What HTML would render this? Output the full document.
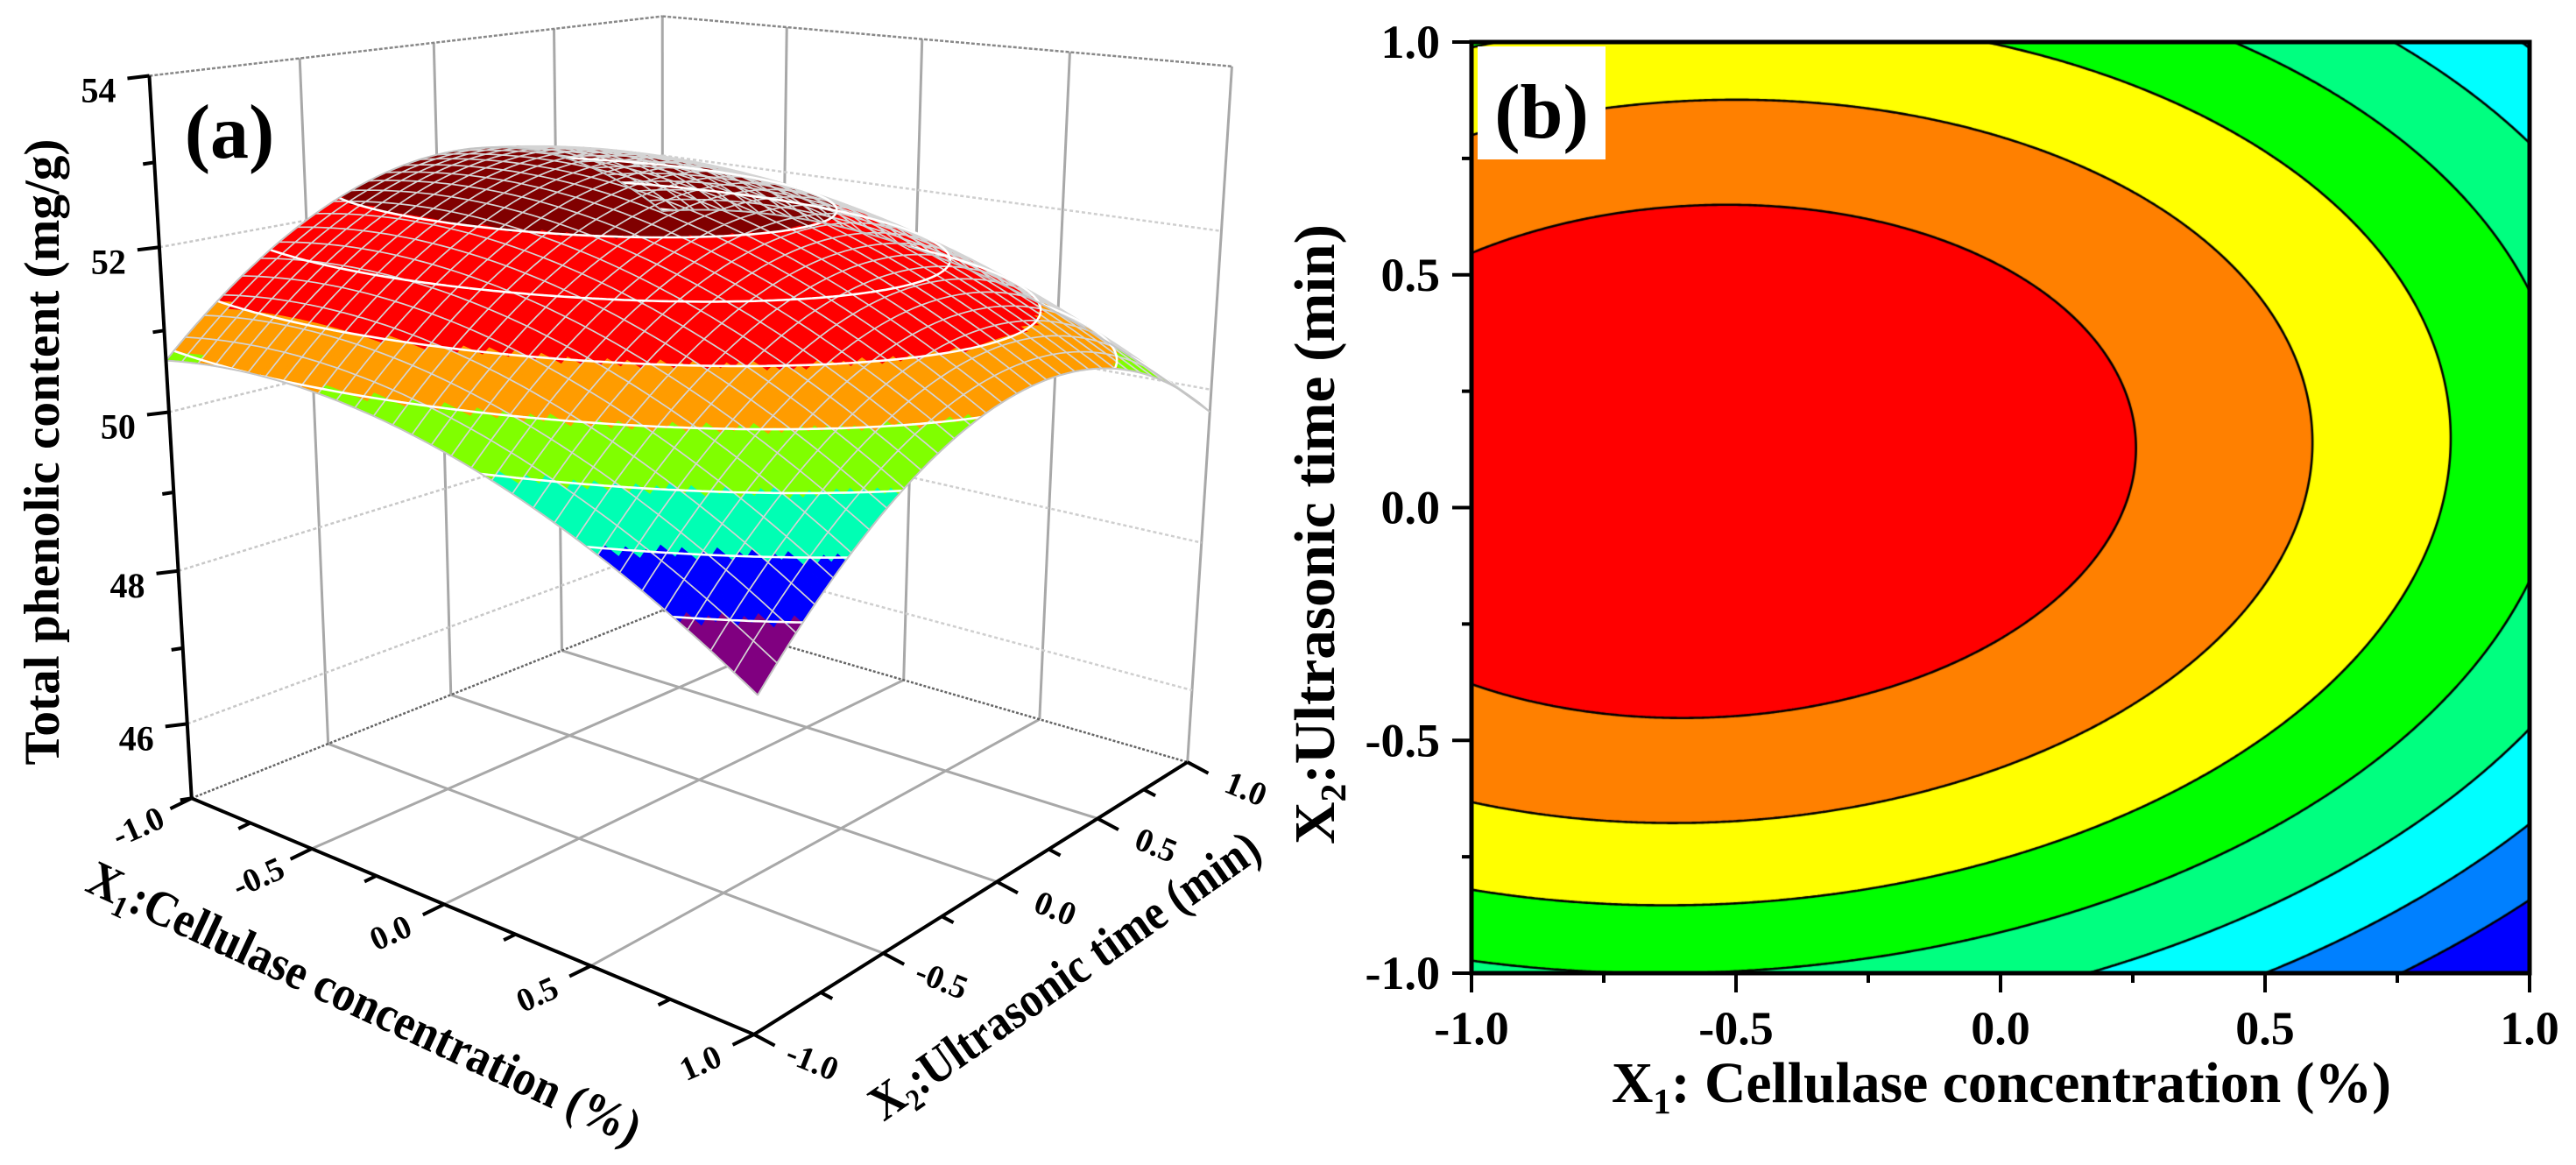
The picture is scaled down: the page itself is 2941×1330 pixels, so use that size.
<!DOCTYPE html>
<html><head><meta charset="utf-8"><title>Response surface and contour plot</title>
<style>
body{margin:0;background:#fff}
#root{position:relative;width:2941px;height:1330px;overflow:hidden;background:#fff}
text{font-family:"Liberation Serif",serif;font-weight:bold;fill:#000}
</style></head>
<body>
<div id="root">
<canvas id="cv" width="1208" height="1063" style="position:absolute;left:1680px;top:48px"></canvas>
<svg id="sv" width="2941" height="1330" viewBox="0 0 2941 1330" style="position:absolute;left:0;top:0">
<g id="g3d"></g>
<g id="g2d"></g>
</svg>
</div>
<script>
// ---- data (fitted quadratic model) ----
const coefs = [52.45, -0.85, 0.39, -0.75, -1.64, 0.115]; // b0, b1, b2, b11, b22, b12
const levels = [49.26, 49.75, 50.24, 50.73, 51.22, 51.72, 52.21];
const contourColors = ['#0000FF','#0080FF','#00FFFF','#00FF80','#00FF00','#FFFF00','#FF8000','#FF0000'];
const surfaceColors = ['#800080','#0000FF','#00FFB4','#80FF00','#FF9C00','#FF0000','#FF0000','#800000'];
const zTicks = [46, 48, 50, 52, 54];
const zMinorTicks = [45, 47, 49, 51, 53];
const xTicks = [-1, -0.5, 0, 0.5, 1];
const xTickLabels = ['-1.0', '-0.5', '0.0', '0.5', '1.0'];
const zTickLabels = ['46', '48', '50', '52', '54'];

const NS = 'http://www.w3.org/2000/svg';
function f(u, v) { return coefs[0] + coefs[1]*u + coefs[2]*v + coefs[3]*u*u + coefs[4]*v*v + coefs[5]*u*v; }
function band(z) { let i = 0; while (i < levels.length && z >= levels[i]) i++; return i; }
function mk(parent, tag) { const e = document.createElementNS(NS, tag); parent.appendChild(e); return e; }

// ---- 3D camera (DLT fit to box corners) ----
const calib = [[-1,-1,0,219,910],[1,-1,0,861,1182],[1,1,0,1356,869],[-1,1,0,756,698],[-1,-1,1,170,87],[1,1,1,1406,76],[-1,1,1,757,18]];
const P = (function(){
  const A = [], b = [];
  calib.forEach(([X,Y,Z,x,y]) => {
    A.push([X,Y,Z,1,0,0,0,0,-x*X,-x*Y,-x*Z]); b.push(x);
    A.push([0,0,0,0,X,Y,Z,1,-y*X,-y*Y,-y*Z]); b.push(y);
  });
  const n = 11, M = [];
  for (let i = 0; i < n; i++) { M.push([]); for (let j = 0; j <= n; j++) {
    let s = 0; for (let r = 0; r < A.length; r++) s += A[r][i] * (j < n ? A[r][j] : b[r]); M[i].push(s); } }
  for (let c = 0; c < n; c++) {
    let p = c; for (let r = c+1; r < n; r++) if (Math.abs(M[r][c]) > Math.abs(M[p][c])) p = r;
    [M[c], M[p]] = [M[p], M[c]];
    for (let r = 0; r < n; r++) { if (r === c) continue; const k = M[r][c] / M[c][c];
      for (let j = c; j <= n; j++) M[r][j] -= k * M[c][j]; }
  }
  return M.map((row, i) => row[n] / row[i]);
})();
function proj(u, v, z) {
  const X = u, Y = v, Z = (z - 45) / 9;
  const d = P[8]*X + P[9]*Y + P[10]*Z + 1;
  return [(P[0]*X + P[1]*Y + P[2]*Z + P[3]) / d, (P[4]*X + P[5]*Y + P[6]*Z + P[7]) / d, d];
}
const g3 = document.getElementById('g3d');
function seg(g, a, b, stroke, w, dash, name) {
  const e = mk(g, 'line');
  e.setAttribute('x1', a[0]); e.setAttribute('y1', a[1]); e.setAttribute('x2', b[0]); e.setAttribute('y2', b[1]);
  e.setAttribute('stroke', stroke); e.setAttribute('stroke-width', w);
  if (dash) e.setAttribute('stroke-dasharray', dash);
  
  
  return e;
}
function txt(g, x, y, s, size, rot, anchor, name) {
  const e = mk(g, 'text');
  e.setAttribute('x', x); e.setAttribute('y', y); e.setAttribute('font-size', size);
  e.setAttribute('text-anchor', anchor || 'middle');
  if (rot) e.setAttribute('transform', `rotate(${rot} ${x} ${y})`);
  e.textContent = s;
  
  
  return e;
}
const gridMid = [-0.5, 0, 0.5];
gridMid.concat([1]).forEach(v => seg(g3, proj(-1,v,45), proj(-1,v,54), '#a8a8a8', 3, null, 'left-wall-gridline'));
gridMid.concat([1]).forEach(u => seg(g3, proj(u,1,45), proj(u,1,54), '#a8a8a8', 3, null, 'right-wall-gridline'));
zTicks.slice(0,4).forEach(z => { seg(g3, proj(-1,-1,z), proj(-1,1,z), '#c8c8c8', 2.5, '4 3', 'left-wall-z-gridline');
  seg(g3, proj(-1,1,z), proj(1,1,z), '#cfcfcf', 2.5, '4 3', 'right-wall-z-gridline'); });
seg(g3, proj(-1,-1,54), proj(-1,1,54), '#888', 2.5, '4 2', 'box-top-edge');
seg(g3, proj(-1,1,54), proj(1,1,54), '#888', 2.5, '4 2', 'box-top-edge');
gridMid.forEach(t => { seg(g3, proj(t,-1,45), proj(t,1,45), '#a8a8a8', 3, null, 'floor-gridline');
  seg(g3, proj(-1,t,45), proj(1,t,45), '#a8a8a8', 3, null, 'floor-gridline'); });
seg(g3, proj(-1,-1,45), proj(-1,1,45), '#666', 2.5, '3 2', 'floor-back-edge');
seg(g3, proj(-1,1,45), proj(1,1,45), '#666', 2.5, '3 2', 'floor-back-edge');

// surface fill
const N = 90, cells = [];
for (let i = 0; i < N; i++) for (let j = 0; j < N; j++) {
  const u0 = -1 + 2*i/N, u1 = -1 + 2*(i+1)/N, v0 = -1 + 2*j/N, v1 = -1 + 2*(j+1)/N;
  const zc = f((u0+u1)/2, (v0+v1)/2);
  const pts = [[u0,v0],[u1,v0],[u1,v1],[u0,v1]].map(([u,v]) => proj(u, v, f(u, v)));
  cells.push({pts, col: surfaceColors[band(zc)], d: proj((u0+u1)/2, (v0+v1)/2, zc)[2]});
}
const farFirst = proj(-1,1,45)[2] > proj(1,-1,45)[2] ? -1 : 1;
cells.sort((a, b) => farFirst * (a.d - b.d));
const gSurf = mk(g3, 'g');


cells.forEach(c => {
  const e = mk(gSurf, 'polygon');
  e.setAttribute('points', c.pts.map(p => p[0].toFixed(1) + ',' + p[1].toFixed(1)).join(' '));
  e.setAttribute('fill', c.col); e.setAttribute('stroke', c.col); e.setAttribute('stroke-width', '0.8');
  
  
});
const M = 30; let md = '';
for (let k = 0; k <= M; k++) {
  const t = -1 + 2*k/M; let a = '', b = '';
  for (let s = 0; s <= 60; s++) { const w = -1 + 2*s/60;
    const p = proj(t, w, f(t, w)), q = proj(w, t, f(w, t));
    a += (s ? 'L' : 'M') + p[0].toFixed(1) + ' ' + p[1].toFixed(1);
    b += (s ? 'L' : 'M') + q[0].toFixed(1) + ' ' + q[1].toFixed(1); }
  md += a + b;
}
const mesh = mk(g3, 'path');
mesh.setAttribute('d', md); mesh.setAttribute('fill', 'none'); mesh.setAttribute('stroke', '#d4d4d4'); mesh.setAttribute('stroke-width', '1.7');



function march(vals, nx, ny, lev, emit) {
  for (let j = 0; j < ny-1; j++) for (let i = 0; i < nx-1; i++) {
    const c = [[i,j],[i+1,j],[i+1,j+1],[i,j+1]];
    const s = c.map(([a,b]) => vals[b*nx+a] - lev);
    const pts = [];
    for (let k = 0; k < 4; k++) { const k2 = (k+1) % 4;
      if ((s[k] < 0) !== (s[k2] < 0)) { const t = s[k] / (s[k] - s[k2]);
        pts.push([c[k][0] + t*(c[k2][0]-c[k][0]), c[k][1] + t*(c[k2][1]-c[k][1])]); } }
    if (pts.length === 2) emit(pts[0], pts[1]);
    else if (pts.length === 4) { emit(pts[0], pts[1]); emit(pts[2], pts[3]); }
  }
}
const SN = 121, sv = [];
for (let j = 0; j < SN; j++) for (let i = 0; i < SN; i++) sv.push(f(-1 + 2*i/(SN-1), -1 + 2*j/(SN-1)));
levels.forEach(lev => {
  let d = '';
  march(sv, SN, SN, lev, (a, b) => {
    const p = proj(-1 + 2*a[0]/(SN-1), -1 + 2*a[1]/(SN-1), lev), q = proj(-1 + 2*b[0]/(SN-1), -1 + 2*b[1]/(SN-1), lev);
    d += 'M' + p[0].toFixed(1) + ' ' + p[1].toFixed(1) + 'L' + q[0].toFixed(1) + ' ' + q[1].toFixed(1);
  });
  const e = mk(g3, 'path');
  e.setAttribute('d', d); e.setAttribute('stroke', '#fff'); e.setAttribute('stroke-width', '2.6'); e.setAttribute('fill', 'none');
  
  
});
let od = '';
[[t => [t,-1]], [t => [1,t]], [t => [-1,t]], [t => [t,1]]].forEach(([fn]) => {
  for (let s = 0; s <= 60; s++) { const [u, v] = fn(-1 + 2*s/60); const p = proj(u, v, f(u, v));
    od += (s ? 'L' : 'M') + p[0].toFixed(1) + ' ' + p[1].toFixed(1); } });
const ol = mk(g3, 'path');
ol.setAttribute('d', od); ol.setAttribute('fill', 'none'); ol.setAttribute('stroke', '#c4c4c4'); ol.setAttribute('stroke-width', '2');



seg(g3, proj(-1,-1,45), proj(-1,-1,54), '#000', 4, null, 'z-axis-line');
seg(g3, proj(-1,-1,45), proj(1,-1,45), '#000', 4, null, 'x1-axis-line');
seg(g3, proj(1,-1,45), proj(1,1,45), '#000', 4, null, 'x2-axis-line');
zTicks.forEach((z, i) => { const p = proj(-1,-1,z);
  seg(g3, p, [p[0]-25, p[1]+3], '#000', 4, null, 'z-tick');
  txt(g3, p[0]-58, p[1]+30, zTickLabels[i], 40, 0, 'middle', 'z-tick-label'); });
zMinorTicks.forEach(z => { const p = proj(-1,-1,z); seg(g3, p, [p[0]-13, p[1]+2], '#000', 4, null, 'z-minor-tick'); });
for (let k = 0; k <= 8; k++) { const t = -1 + k*0.25, major = k % 2 === 0;
  const L = major ? 27 : 15;
  const p = proj(t,-1,45); seg(g3, p, [p[0]-0.9*L, p[1]+0.44*L], '#000', 4, null, 'x1-tick');
  const q = proj(1,t,45); seg(g3, q, [q[0]+0.88*L, q[1]+0.47*L], '#000', 4, null, 'x2-tick'); }
xTicks.forEach((t, i) => {
  const p = proj(t,-1,45); txt(g3, p[0]-56, p[1]+44, xTickLabels[i], 38, -24, 'middle', 'x1-tick-label');
  const q = proj(1,t,45); txt(g3, q[0]+62, q[1]+42, xTickLabels[i], 38, 22, 'middle', 'x2-tick-label'); });

function subTitle(g, x, y, rot, size, len, pre, sub, post, name) {
  const e = mk(g, 'text');
  e.setAttribute('x', x); e.setAttribute('y', y); e.setAttribute('font-size', size); e.setAttribute('text-anchor', 'middle');
  e.setAttribute('transform', `rotate(${rot} ${x} ${y})`);
  if (len) { e.setAttribute('textLength', len); e.setAttribute('lengthAdjust', 'spacingAndGlyphs'); }
  const a = mk(e, 'tspan'); a.textContent = pre;
  const b = mk(e, 'tspan'); b.setAttribute('font-size', size*0.62); b.setAttribute('dy', size*0.2); b.textContent = sub;
  const c = mk(e, 'tspan'); c.setAttribute('dy', -size*0.2); c.textContent = post;
  
  
  return e;
}
const zt = txt(g3, 67, 516, 'Total phenolic content (mg/g)', 57, -90, 'middle', 'z-axis-title');
zt.setAttribute('textLength', 715); zt.setAttribute('lengthAdjust', 'spacingAndGlyphs');
subTitle(g3, 408, 1162, 25, 57, 690, 'X', '1', ':Cellulase concentration (%)', 'x1-axis-title-3d');
subTitle(g3, 1226, 1129, -35, 57, 530, 'X', '2', ':Ultrasonic time (min)', 'x2-axis-title-3d');
txt(g3, 262, 180, '(a)', 88, 0, 'middle', 'panel-label-a');

// ---- 2D contour ----
const PX0 = 1680, PY0 = 48, PW = 1208, PH = 1063;
const xs = u => PX0 + (u + 1) / 2 * PW, ys = v => PY0 + (1 - v) / 2 * PH;
const cv = document.getElementById('cv'), ctx = cv.getContext('2d');
const img = ctx.createImageData(PW, PH);
const rgb = contourColors.map(h => [parseInt(h.slice(1,3),16), parseInt(h.slice(3,5),16), parseInt(h.slice(5,7),16)]);
for (let py = 0; py < PH; py++) for (let px = 0; px < PW; px++) {
  const c = rgb[band(f(-1 + 2*(px+0.5)/PW, 1 - 2*(py+0.5)/PH))], o = (py*PW + px) * 4;
  img.data[o] = c[0]; img.data[o+1] = c[1]; img.data[o+2] = c[2]; img.data[o+3] = 255;
}
ctx.putImageData(img, 0, 0);
const st = 3, gnx = Math.ceil(PW/st) + 1, gny = Math.ceil(PH/st) + 1, gv = [];
for (let j = 0; j < gny; j++) for (let i = 0; i < gnx; i++) gv.push(f(-1 + 2*(i*st)/PW, 1 - 2*(j*st)/PH));
ctx.strokeStyle = '#000'; ctx.lineWidth = 2.6; ctx.lineCap = 'round';
ctx.beginPath();
levels.forEach(lev => march(gv, gnx, gny, lev, (a, b) => { ctx.moveTo(a[0]*st, a[1]*st); ctx.lineTo(b[0]*st, b[1]*st); }));
ctx.stroke();

const g2 = document.getElementById('g2d');
const fr = mk(g2, 'rect');
fr.setAttribute('x', PX0); fr.setAttribute('y', PY0); fr.setAttribute('width', PW); fr.setAttribute('height', PH);
fr.setAttribute('fill', 'none'); fr.setAttribute('stroke', '#000'); fr.setAttribute('stroke-width', 5);


for (let k = 0; k <= 8; k++) { const t = -1 + k*0.25, L = k % 2 === 0 ? 22 : 11;
  seg(g2, [xs(t), PY0+PH], [xs(t), PY0+PH+L], '#000', 4, null, 'x-tick');
  seg(g2, [PX0, ys(t)], [PX0-L, ys(t)], '#000', 4, null, 'y-tick'); }
xTicks.forEach((t, i) => {
  txt(g2, xs(t), 1192, xTickLabels[i], 54, 0, 'middle', 'x-tick-label');
  txt(g2, 1644, ys(t) + 18, xTickLabels[i], 54, 0, 'end', 'y-tick-label'); });
subTitle(g2, 2285, 1258, 0, 66, 890, 'X', '1', ': Cellulase concentration (%)', 'x-axis-title');
subTitle(g2, 1523, 610, -90, 66, 708, 'X', '2', ':Ultrasonic time (min)', 'y-axis-title');
const lb = mk(g2, 'rect');
lb.setAttribute('x', 1687); lb.setAttribute('y', 53); lb.setAttribute('width', 146); lb.setAttribute('height', 129); lb.setAttribute('fill', '#fff');


txt(g2, 1760, 157, '(b)', 88, 0, 'middle', 'panel-label-b');
</script>
</body></html>
